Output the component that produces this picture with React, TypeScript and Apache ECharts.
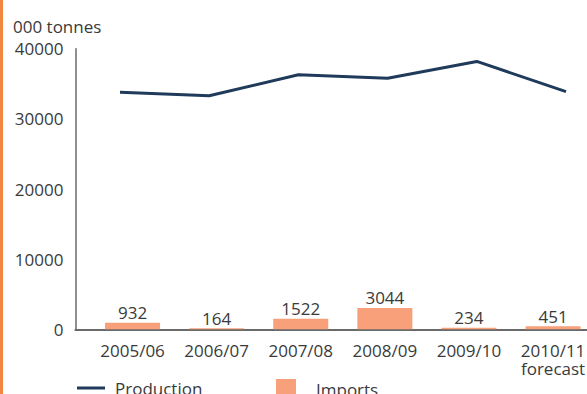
import React, { useEffect, useRef } from "react";
import * as echarts from "echarts";

const categories = ["2005/06", "2006/07", "2007/08", "2008/09", "2009/10", "2010/11\nforecast"];
const production = [33800, 33300, 36300, 35800, 38200, 33900];
const imports = [932, 164, 1522, 3044, 234, 451];
const yTicks = { min: 0, max: 40000, interval: 10000 };

const FONT = "'Open Sans', 'Noto Sans', sans-serif";
const TXT = "#3a3a3a";
const FS = 17;

export default function App() {
  const ref = useRef<HTMLDivElement>(null);
  useEffect(() => {
    if (!ref.current) return;
    const chart = echarts.init(ref.current, null, { renderer: "svg" });
    const gridTop = 48.8;
    const gridHeight = 280.5;
    chart.setOption({
      animation: false,
      backgroundColor: "#ffffff",
      textStyle: { fontFamily: FONT },
      title: {
        text: "000 tonnes",
        left: 13,
        top: 16,
        padding: 0,
        textStyle: { fontFamily: FONT, fontSize: FS, fontWeight: "normal", color: TXT, lineHeight: 20 },
      },
      graphic: [
        { type: "rect", left: 0, top: 0, shape: { width: 3, height: 394 }, style: { fill: "#F0873F" }, silent: true },
      ],
      legend: [
        {
          data: ["Production"],
          left: 77,
          top: 378,
          padding: 0,
          icon: "rect",
          itemWidth: 28,
          itemHeight: 3,
          textStyle: { fontFamily: FONT, fontSize: FS, color: TXT, lineHeight: 20, padding: [0, 0, 0, 5] },
        },
        {
          data: ["Imports"],
          left: 276,
          top: 379,
          padding: 0,
          icon: "rect",
          itemWidth: 20,
          itemHeight: 20,
          textStyle: { fontFamily: FONT, fontSize: FS, color: TXT, lineHeight: 20, padding: [0, 0, 0, 15] },
        },
      ],
      grid: [
        { left: 75.4, width: 535.2, top: gridTop, height: gridHeight, outerBoundsMode: "none", containLabel: false },
        { left: 90.5, width: 504.6, top: gridTop, height: gridHeight, outerBoundsMode: "none", containLabel: false },
      ],
      xAxis: [
        {
          type: "category",
          gridIndex: 0,
          data: categories,
          axisLine: { show: true, lineStyle: { color: "#6a6a6a", width: 2 } },
          axisTick: { show: false },
          axisLabel: { show: false },
        },
        {
          type: "category",
          gridIndex: 1,
          data: categories,
          axisLine: { show: false },
          axisTick: { show: false },
          axisLabel: {
            interval: 0,
            margin: 12,
            fontFamily: FONT,
            fontSize: FS,
            lineHeight: 18,
            color: TXT,
          },
        },
      ],
      yAxis: [
        {
          type: "value",
          gridIndex: 0,
          ...yTicks,
          axisLine: { show: true, lineStyle: { color: "#6a6a6a", width: 1.5 } },
          axisTick: { show: false },
          splitLine: { show: false },
          axisLabel: {
            margin: 12,
            fontFamily: FONT,
            fontSize: FS,
            color: TXT,
            formatter: (v: number) => String(v),
          },
        },
        {
          type: "value",
          gridIndex: 1,
          ...yTicks,
          show: false,
          splitLine: { show: false },
        },
      ],
      series: [
        {
          name: "Imports",
          type: "bar",
          xAxisIndex: 1,
          yAxisIndex: 1,
          data: imports,
          barWidth: 55,
          itemStyle: { color: "#F7A079" },
          label: {
            show: true,
            position: "top",
            distance: 1,
            fontFamily: FONT,
            fontSize: FS,
            lineHeight: 18,
            color: TXT,
          },
        },
        {
          name: "Production",
          type: "line",
          xAxisIndex: 0,
          yAxisIndex: 0,
          data: production,
          symbol: "none",
          lineStyle: { color: "#1F3A5A", width: 3 },
          itemStyle: { color: "#1F3A5A" },
        },
      ],
    });
    return () => chart.dispose();
  }, []);
  return (
    <div
      ref={ref}
      style={{ position: "fixed", left: 0, top: 0, width: 587, height: 394, background: "#fff" }}
    />
  );
}
